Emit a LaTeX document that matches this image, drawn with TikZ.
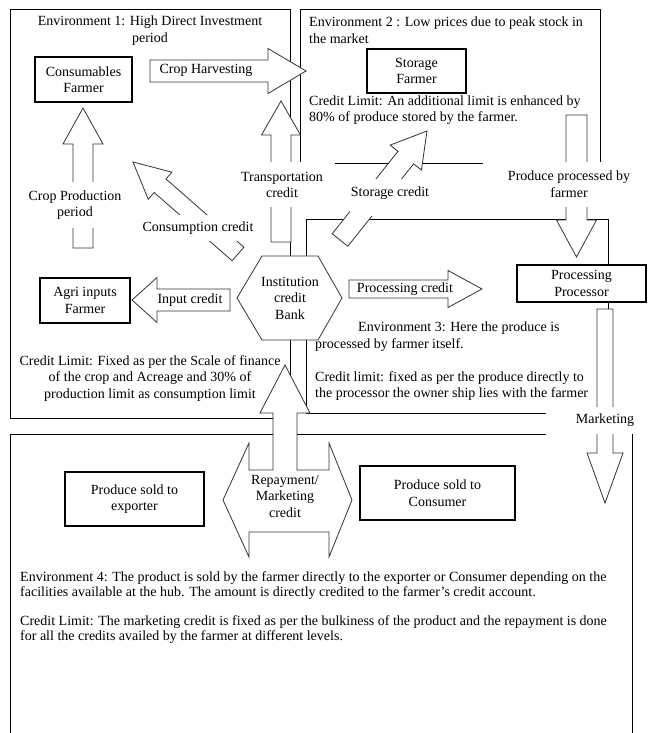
\documentclass[tikz,border=0pt]{standalone}
\usepackage{fontspec}
\setmainfont{Liberation Serif}
\newcommand{\dfont}{\fontsize{14}{16.5}\selectfont}
\newcommand{\efont}{\fontsize{14}{15}\selectfont}
% block arrow from (x1,y1) to tip (x2,y2): shaft half width, head half width, head length
\newcommand{\barrow}[7]{%
 \pgfmathsetmacro\baDX{#3-(#1)}%
 \pgfmathsetmacro\baDY{#4-(#2)}%
 \pgfmathsetmacro\baL{veclen(\baDX,\baDY)}%
 \pgfmathsetmacro\baAng{atan2(-\baDY,\baDX)}%
 \pgfmathsetmacro\baB{\baL-(#7)}%
 \begin{scope}[shift={(#1,#2)},rotate=\baAng]
  \draw[blockarrow] (0,-#5) -- (\baB,-#5) -- (\baB,-#6) -- (\baL,0) -- (\baB,#6) -- (\baB,#5) -- (0,#5) -- cycle;
 \end{scope}}
\begin{document}
\begin{tikzpicture}[x=1pt,y=-1pt,
  envline/.style={line width=0.9pt, draw=black},
  blockarrow/.style={draw=black!80, line width=0.8pt, fill=white, line join=miter},
  boxnode/.style={draw=black, line width=1.1pt, fill=white, align=center, inner sep=0pt, font=\dfont},
  hexline/.style={draw=black!80, line width=0.8pt, fill=white},
  txt/.style={inner sep=0pt, font=\dfont},
  cover/.style={fill=white}
]
\useasboundingbox (0,0) rectangle (648,733);

% environment outlines
\draw[envline] (290,418) -- (290,9) -- (10,9) -- (10,418) -- (290,418);
\draw[envline] (300,162) -- (300,9) -- (600,9) -- (600,162);
\draw[envline] (335,163) -- (483,163);
\draw[envline] (306,413) -- (306,219) -- (608,219) -- (608,265);
\draw[envline] (306,413) -- (546,413);
\draw[envline] (546,434) -- (10,434) -- (10,740);
\draw[envline] (632,434) -- (632,740);
\draw[envline] (608,302) -- (608,309);

% block arrows
\barrow{150}{71}{306}{71}{11}{22.5}{38}
\barrow{83}{248}{83}{108}{10}{20}{36}
\barrow{281}{242}{281}{101}{10}{19.5}{34}
\barrow{238}{254}{133}{162}{9}{18}{36}
\barrow{230}{300}{132}{300}{11}{22.5}{25}
\barrow{349}{289}{482}{289}{9}{18.5}{34}
\barrow{340}{240}{427}{131}{10}{20}{34}
\barrow{576.5}{115}{576.5}{257}{10.5}{20}{37}
\barrow{605}{309}{605}{503}{8}{18}{50}
% repayment / marketing credit (double arrow with upward branch)
\draw[blockarrow] (223,500) -- (249,443) -- (249,470) -- (273,470) -- (273,413) -- (260,413)
  -- (285,365) -- (310,413) -- (297,413) -- (297,470) -- (329,470) -- (329,443) -- (352,500)
  -- (329,557) -- (329,532) -- (249,532) -- (249,557) -- cycle;

% boxes
\node[boxnode, minimum width=97pt, minimum height=45pt] (cons) at (83.5,79.5) {Consumables\\Farmer};
\node[boxnode, minimum width=99pt, minimum height=44pt] (stor) at (416.5,71) {Storage\\Farmer};
\node[boxnode, minimum width=90pt, minimum height=45pt] (agri) at (85,300.5) {Agri inputs\\Farmer};
\node[boxnode, minimum width=129pt, minimum height=37pt] (procb) at (581.5,283.5) {Processing\\Processor};
\node[boxnode, minimum width=139pt, minimum height=54pt] (expo) at (134.5,499) {Produce sold to\\exporter};
\node[boxnode, minimum width=155pt, minimum height=54pt] (consu) at (437.5,493) {Produce sold to\\Consumer};

% hexagon
\draw[hexline] (262,256) -- (318,256) -- (342,298) -- (318,340) -- (262,340) -- (237,298) -- cycle;
\node[txt, align=center] (bank) at (290,298) {Institution\\credit\\Bank};

% labels interrupting lines
\fill[cover] (27,182) rectangle (124,228);
\node[txt, align=center] (cpp) at (75,205) {Crop Production\\period};
\fill[cover] (240,162) rectangle (325,207);
\node[txt, align=center] (trc) at (282,185) {Transportation\\credit};
\fill[cover] (141,215) rectangle (255,241);
\node[txt] (cnc) at (198,228) {Consumption credit};
\fill[cover] (350,179) rectangle (430,216);
\node[txt] (stc) at (390,193) {Storage credit};
\fill[cover] (506,162) rectangle (632,207);
\node[txt, align=center] (ppf) at (569,184) {Produce processed by\\farmer};
\fill[cover] (576,407) rectangle (634,434);
\node[txt] (mkt) at (605,420) {Marketing};

% arrow texts
\node[txt] (harv) at (206,70) {Crop Harvesting};
\node[txt] (inp) at (190,300) {Input credit};
\node[txt] (proc) at (405,289) {Processing credit};
\node[txt, align=center] (repay) at (285,496) {Repayment/\\Marketing\\credit};

% environment texts
\node[txt, align=center] (env1) at (150,30.5) {Environment 1: High Direct Investment\\period};
\node[txt, align=left, anchor=west] (env2) at (309,30) {Environment 2 : Low prices due to peak stock in\\the market};
\node[txt, align=left, anchor=west] (lim2) at (309,110) {Credit Limit: An additional limit is enhanced by\\80\% of produce stored by the farmer.};
\node[txt, align=center] (lim1) at (150,378.5) {Credit Limit: Fixed as per the Scale of finance\\of the crop and Acreage and 30\% of\\production limit as consumption limit};
\node[txt, align=left, anchor=west] (env3) at (315,336.5) {\hspace*{43pt}Environment 3: Here the produce is\\processed by farmer itself.};
\node[txt, align=left, anchor=west] (lim3) at (315,386) {Credit limit: fixed as per the produce directly to\\the processor the owner ship lies with the farmer};
\node[txt, font=\efont, align=left, anchor=west] (env4) at (20,585.5) {Environment 4: The product is sold by the farmer directly to the exporter or Consumer depending on the\\facilities available at the hub. The amount is directly credited to the farmer’s credit account.};
\node[txt, font=\efont, align=left, anchor=west] (lim4) at (20,629.5) {Credit Limit: The marketing credit is fixed as per the bulkiness of the product and the repayment is done\\for all the credits availed by the farmer at different levels.};
\end{tikzpicture}
\end{document}
